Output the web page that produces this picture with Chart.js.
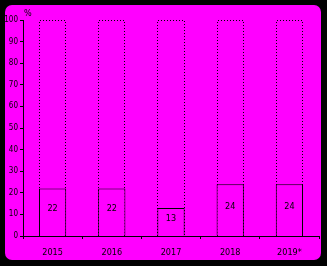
<!DOCTYPE html>
<html><head><meta charset="utf-8">
<script src="https://cdn.jsdelivr.net/npm/chart.js@4"></script>
<style>
html,body{margin:0;padding:0;background:#000;width:327px;height:266px;overflow:hidden;}
#bg{position:absolute;left:5px;top:5px;width:316px;height:255px;background:#ff00ff;border-radius:7px;}
#wrap{position:absolute;left:0;top:0;width:327px;height:266px;}
</style></head>
<body>
<div id="bg"></div>
<div id="wrap"><canvas id="c" width="327" height="266"></canvas></div>
<script>
const categories = ['2015','2016','2017','2018','2019*'];
const values = [22, 22, 13, 24, 24];
const totals = [100, 100, 100, 100, 100];
const yTicks = [0,10,20,30,40,50,60,70,80,90,100];
const unitLabel = '%';

const FONT = "'Liberation Sans Narrow','DejaVu Sans Condensed',sans-serif";

const dottedPlugin = {
  id: 'dotted',
  beforeDatasetsDraw(chart) {
    const meta = chart.getDatasetMeta(1);
    const ctx = chart.ctx;
    ctx.save();
    ctx.strokeStyle = '#000';
    ctx.lineWidth = 1;
    ctx.setLineDash([1, 2]);
    meta.data.forEach(el => {
      const l = Math.round(el.x - el.width / 2) + 0.5;
      const r = Math.round(el.x + el.width / 2) - 0.5;
      const t = Math.round(el.y) + 0.5;
      const b = Math.round(el.base);
      ctx.beginPath();
      ctx.moveTo(l, b); ctx.lineTo(l, t); ctx.lineTo(r, t); ctx.lineTo(r, b);
      ctx.stroke();
    });
    ctx.restore();
  },
  afterDatasetsDraw(chart) {
    const meta = chart.getDatasetMeta(0);
    const ctx = chart.ctx;
    ctx.save();
    ctx.fillStyle = '#000';
    ctx.font = '9px ' + FONT;
    ctx.textAlign = 'center';
    ctx.textBaseline = 'middle';
    meta.data.forEach((el, i) => {
      ctx.fillText(String(values[i]), el.x, (el.y + el.base) / 2 - 3);
    });
    const ys = chart.scales.y;
    ctx.textAlign = 'left';
    ctx.fillText(unitLabel, ys.right + 1, ys.top - 6);
    ctx.restore();
  }
};

new Chart(document.getElementById('c'), {
  type: 'bar',
  data: {
    labels: categories,
    datasets: [
      { data: values, backgroundColor: '#ff00ff', borderColor: '#000', borderWidth: 1,
        grouped: false, barPercentage: 0.46, categoryPercentage: 1, order: 0 },
      { data: totals, backgroundColor: 'rgba(0,0,0,0)', borderWidth: 0,
        grouped: false, barPercentage: 0.46, categoryPercentage: 1, order: 1 }
    ]
  },
  options: {
    responsive: false,
    animation: false,
    devicePixelRatio: 1,
    layout: { padding: { left: 0, right: 8, top: 20, bottom: 0 } },
    plugins: { legend: { display: false }, tooltip: { enabled: false } },
    scales: {
      x: {
        grid: { display: true, drawOnChartArea: false, drawTicks: true, tickLength: 3, color: '#000', offset: true },
        border: { display: true, color: '#000', width: 1 },
        ticks: { color: '#000', font: { family: FONT, size: 9 }, padding: 8, maxRotation: 0 },
        afterFit(s) { s.height = 30; }
      },
      y: {
        min: 0, max: 100,
        afterBuildTicks(s) { s.ticks = yTicks.map(v => ({ value: v })); },
        grid: { display: true, drawOnChartArea: false, drawTicks: true, tickLength: 3, color: '#000' },
        border: { display: true, color: '#000', width: 1 },
        ticks: { color: '#000', font: { family: FONT, size: 8 }, padding: 2 },
        afterFit(s) { s.width = 23; }
      }
    }
  },
  plugins: [dottedPlugin]
});
</script>
</body></html>
